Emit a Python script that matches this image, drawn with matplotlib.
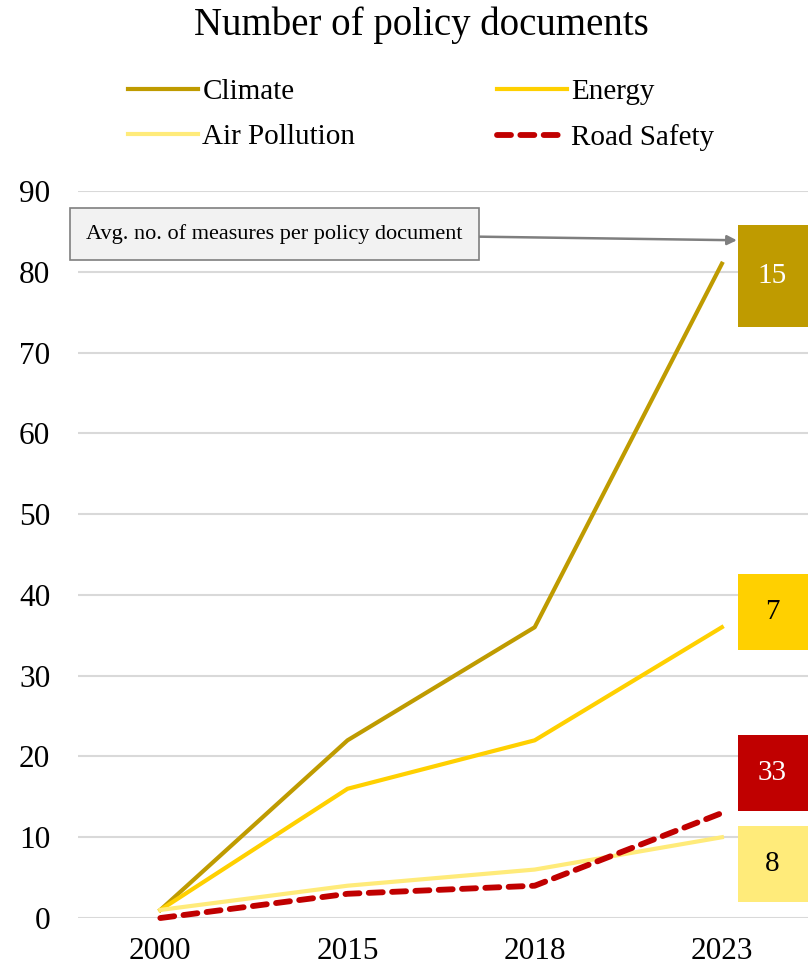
import matplotlib
matplotlib.use("Agg")
import matplotlib.pyplot as plt
from matplotlib.patches import Rectangle

plt.rcParams["font.family"] = ["Liberation Serif", "DejaVu Serif"]

# datos
anios = ["2000", "2015", "2018", "2023"]
climate = [1, 22, 36, 81]
energy = [1, 16, 22, 36]
air_pollution = [1, 4, 6, 10]
road_safety = [0, 3, 4, 13]

# promedio de medidas por documento (cajas a la derecha)
promedios = [15, 7, 33, 8]
centros_caja = [79.5, 37.9, 17.9, 6.7]
altos_caja = [12.6, 9.4, 9.4, 9.4]

c_climate = "#BF9B00"
c_energy = "#FFD000"
c_air = "#FFEB7A"
c_road = "#C00000"
colores_caja = [c_climate, c_energy, c_road, c_air]
color_texto_caja = ["white", "black", "white", "black"]

fig = plt.figure(figsize=(8.08, 9.69), dpi=100)
ax = fig.add_axes([0.0965, 0.0526, 0.9035, 0.7503])

x = range(len(anios))
l1, = ax.plot(x, climate, color=c_climate, lw=3, label="Climate", clip_on=False)
l2, = ax.plot(x, energy, color=c_energy, lw=3, label="Energy", clip_on=False)
l3, = ax.plot(x, air_pollution, color=c_air, lw=3, label="Air Pollution", clip_on=False)
l4, = ax.plot(x, road_safety, color=c_road, lw=4.2, ls=(0, (2.4, 1.6)), label="Road Safety",
              clip_on=False, dash_capstyle="round")

ax.set_xlim(-0.44, 3.46)
ax.set_ylim(0, 90)
ax.set_yticks(range(0, 91, 10))
ax.set_xticks(list(x))
ax.set_xticklabels(anios)
ax.tick_params(length=0, labelsize=22.5, colors="black")
ax.tick_params(axis="x", pad=14)
ax.tick_params(axis="y", pad=20)
ax.grid(axis="y", color="#d9d9d9", lw=1.5)
ax.set_axisbelow(True)
for s in ax.spines.values():
    s.set_visible(False)

# cajas con los promedios
for val, yc, h, col, tc in zip(promedios, centros_caja, altos_caja, colores_caja, color_texto_caja):
    ax.add_patch(Rectangle((3.086, yc - h / 2), 0.5, h, facecolor=col, edgecolor="none",
                           clip_on=True, zorder=3))
    ax.text(3.27, yc, str(val), ha="center", va="center", fontsize=21, color=tc, zorder=4)

ax.annotate("Avg. no. of measures per policy document", xy=(3.08, 83.9), xytext=(0.611, 84.7),
            ha="center", va="center", fontsize=16,
            bbox=dict(boxstyle="square,pad=0.72", facecolor="#f2f2f2", edgecolor="#7f7f7f", lw=1.2),
            arrowprops=dict(arrowstyle="-|>", color="#7f7f7f", lw=1.8, mutation_scale=14,
                            shrinkA=0, shrinkB=0))

fig.text(0.521, 0.974, "Number of policy documents", ha="center", va="center", fontsize=28)

# orden por filas como en el original
fig.legend([l1, l3, l2, l4], ["Climate", "Air Pollution", "Energy", "Road Safety"],
           ncol=2, loc="upper left", bbox_to_anchor=(0.126, 0.946),
           frameon=False, fontsize=21, handlelength=2.4, handletextpad=0.15,
           columnspacing=4.85, labelspacing=0.65)

fig.savefig("out.png", dpi=100)
